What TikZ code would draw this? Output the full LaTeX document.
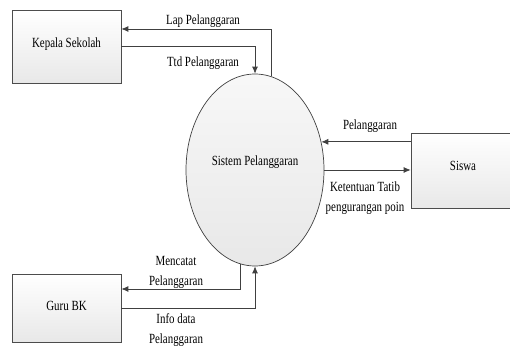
\documentclass[tikz,border=0pt]{standalone}
\usepackage{fontspec}
\setmainfont{Liberation Serif}[FakeStretch=0.78]
\usetikzlibrary{arrows.meta,shapes.geometric}
\begin{document}
\begin{tikzpicture}[x=1pt,y=1pt,
  font=\fontsize{14}{16}\selectfont,
  entity/.style={draw=black!70, line width=0.7pt, top color=white, bottom color=black!9,
    inner sep=0pt, text depth=8pt},
  process/.style={ellipse, draw=black!75, line width=0.7pt, top color=black!3, bottom color=black!9,
    minimum width=138pt, minimum height=192pt, inner sep=0pt},
  flow/.style={draw=black!75, line width=0.8pt, -{Latex[length=7pt,width=6pt]}},
  lbl/.style={inner sep=0pt, align=center, font=\fontsize{14}{20}\selectfont}]
\clip (0,0) rectangle (510,345);

% external entities
\node[entity, minimum width=109pt, minimum height=73pt] (kepala) at (66.5,298.5) {Kepala Sekolah};
\node[entity, minimum width=109pt, minimum height=68pt, text depth=4pt] (guru) at (66.5,37) {Guru BK};
\node[entity, minimum width=104pt, minimum height=75pt, text depth=9pt, text width=96pt, align=center] (siswa) at (463,174.5) {Siswa};

% process
\node[process] (sys) at (255,175) {};
\node[lbl] (systxt) at (255,183) {Sistem Pelanggaran};

% data flows
\draw[flow] (sys.80) |- ([yshift=17.5pt]kepala.east);
\draw[flow] (kepala.east) -| (sys.north);
\draw[flow] (siswa.west |- sys.23.8) -- (sys.23.8);
\draw[flow] (sys.east) -- (siswa.west |- sys.east);
\draw[flow] (sys.261) |- ([yshift=19pt]guru.east);
\draw[flow] (guru.east) -| (sys.south);

% flow labels
\node[lbl] (l1) at (203,324) {Lap Pelanggaran};
\node[lbl] (l2) at (203,282) {Ttd Pelanggaran};
\node[lbl] (l3) at (370,219) {Pelanggaran};
\node[lbl] (l4) at (365,147) {Ketentuan Tatib\\pengurangan poin};
\node[lbl] (l5) at (176,73) {Mencatat\\Pelanggaran};
\node[lbl] (l6) at (176,15) {Info data\\Pelanggaran};
\end{tikzpicture}
\end{document}
